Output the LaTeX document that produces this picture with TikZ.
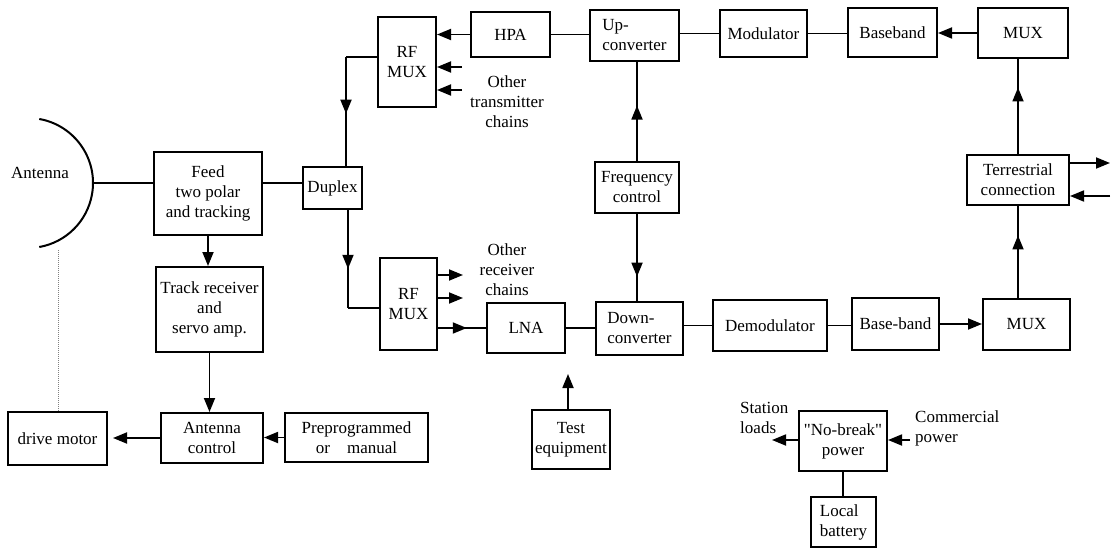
\documentclass[tikz,border=0pt]{standalone}
\usepackage{fontspec}
\setmainfont{Liberation Serif}
\usetikzlibrary{arrows.meta, decorations.markings}

\begin{document}
\begin{tikzpicture}[x=1pt, y=-1pt, >={Triangle[length=14pt,width=11pt]},
    font=\fontsize{17}{20}\selectfont, line width=1.8pt,
    blk/.style={draw, line width=2pt, inner sep=2pt, align=center},
    arr/.style={->},
    midarr/.style={postaction={decorate},
      decoration={markings, mark=at position #1 with {\arrow{>}}}},
    midarr/.default=0.55]
  \useasboundingbox (0,0) rectangle (1115,548);
  % Antenna and tracking
  \coordinate (dishc) at (28,183);
  \coordinate (dish) at (93,183);
  \coordinate (dishfoot) at (58,250);
  \draw[line width=2pt] (dishc) ++(-80:65) arc[start angle=-80, end angle=80, radius=65];
  \node (antlabel) at (40,173) {Antenna};
  \node[blk, minimum width=108pt, minimum height=83pt] (feed) at (208,193.5) {Feed\\two polar\\and tracking};
  \node[blk, minimum width=107pt, minimum height=85pt] (track) at (209.5,309.5) {Track receiver\\and\\servo amp.};
  \node[blk, minimum width=102pt, minimum height=50pt] (antctl) at (212,438) {Antenna\\control};
  \node[blk, minimum width=99pt, minimum height=53pt] (drive) at (57.5,438.5) {drive motor};
  \node[blk, minimum width=143pt, minimum height=49pt] (preprog) at (356.5,437.5) {Preprogrammed\\or\quad manual};
  \draw (dish) -- (dish -| feed.west);
  \draw[densely dotted, gray, line width=1pt] (dishfoot) -- (dishfoot |- drive.north);
  \draw[arr] (feed.south) -- (feed.south |- track.north);
  \draw[arr] (track.south) -- (track.south |- antctl.north);
  \draw[arr, shorten >=5pt] (antctl.west) -- (antctl.west -| drive.east);
  \draw[arr] (preprog.west) -- (preprog.west -| antctl.east);
  % Duplex and RF multiplexers
  \node[blk, minimum width=59pt, minimum height=42pt] (duplex) at (332.5,188) {Duplex};
  \node[blk, minimum width=58pt, minimum height=90pt] (rfmuxT) at (407,62) {RF\\MUX};
  \node[blk, minimum width=57pt, minimum height=92pt] (rfmuxR) at (408.5,304) {RF\\MUX};
  \coordinate (txbend) at (346,57);
  \coordinate (rxbend) at (348,308);
  \draw (dish -| feed.east) -- (dish -| duplex.west);
  \draw (rfmuxT.west |- txbend) -- (txbend);
  \draw[midarr=0.52] (txbend) -- (txbend |- duplex.north);
  \draw[midarr=0.6] (rxbend |- duplex.south) -- (rxbend);
  \draw (rxbend) -- (rxbend -| rfmuxR.west);
  % Transmit chain
  \node[blk, minimum width=79pt, minimum height=45pt] (hpa) at (510.5,34.5) {HPA};
  \node[blk, minimum width=89pt, minimum height=51pt, align=left] (upconv) at (634.5,35.5) {Up-\\converter};
  \node[blk, minimum width=87pt, minimum height=47pt] (mod) at (763.5,33.5) {Modulator};
  \node[blk, minimum width=89pt, minimum height=49pt] (bbT) at (892.5,32.5) {Baseband};
  \node[blk, minimum width=90pt, minimum height=50pt] (muxT) at (1023,33) {MUX};
  \draw[arr] (hpa.west) -- (hpa.west -| rfmuxT.east);
  \foreach \yy/\n in {67/a, 90/b}{
    \coordinate (tx\n) at (462,\yy);
    \draw[arr] (tx\n) -- (tx\n -| rfmuxT.east);
  }
  \node[align=center] (othertx) at (507,102) {Other\\transmitter\\chains};
  \draw (hpa.east) -- (hpa.east -| upconv.west);
  \draw (mod.west -| upconv.east) -- (mod.west);
  \draw (mod.east) -- (mod.east -| bbT.west);
  \draw[arr] (muxT.west) -- (muxT.west -| bbT.east);
  % Frequency control
  \node[blk, minimum width=84pt, minimum height=51pt] (freq) at (637,187.5) {Frequency\\control};
  % Receive chain
  \node[blk, minimum width=78pt, minimum height=50pt] (lna) at (526,328) {LNA};
  \node[blk, minimum width=87pt, minimum height=53pt, align=left] (downconv) at (639.5,328.5) {Down-\\converter};
  \node[blk, minimum width=114pt, minimum height=51pt] (demod) at (770,325.5) {Demodulator};
  \node[blk, minimum width=87pt, minimum height=52pt] (bbR) at (895.5,324) {Base-band};
  \node[blk, minimum width=87pt, minimum height=51pt] (muxR) at (1026.5,324.5) {MUX};
  \draw[midarr=0.56] (freq.north) -- (freq.north |- upconv.south);
  \draw[midarr=0.72] (freq.south) -- (freq.south |- downconv.north);
  \foreach \yy/\n in {275/a, 298/b}{
    \coordinate (rx\n) at (463,\yy);
    \draw[arr] (rx\n -| rfmuxR.east) -- (rx\n);
  }
  \node[align=center] (otherrx) at (507,270) {Other\\receiver\\chains};
  \draw[midarr=0.6] (lna.west -| rfmuxR.east) -- (lna.west);
  \draw (lna.east) -- (lna.east -| downconv.west);
  \draw (demod.west -| downconv.east) -- (demod.west);
  \draw (demod.east) -- (demod.east -| bbR.west);
  \draw[arr] (bbR.east) -- (bbR.east -| muxR.west);
  % Terrestrial side
  \node[blk, minimum width=102pt, minimum height=50pt] (terr) at (1018,180) {Terrestrial\\connection};
  \coordinate (terrout) at (1110,163);
  \coordinate (terrin) at (1110,196);
  \draw[midarr=0.68] (terr.south |- muxR.north) -- (terr.south);
  \draw[midarr=0.7] (terr.north) -- (terr.north |- muxT.south);
  \draw[arr] (terrout -| terr.east) -- (terrout);
  \draw[arr] (terrin) -- (terrin -| terr.east);
  % Test equipment and power
  \node[blk, minimum width=78pt, minimum height=59pt] (test) at (571,439.5) {Test\\equipment};
  \coordinate (testtip) at (568,374);
  \draw[arr] (testtip |- test.north) -- (testtip);
  \node[blk, minimum width=88pt, minimum height=60pt] (nobreak) at (843,441) {\textquotedbl No-break\textquotedbl\\power};
  \node[blk, minimum width=65pt, minimum height=50pt, align=left] (battery) at (843.5,522) {Local\\battery};
  \coordinate (loads) at (772,440);
  \coordinate (mains) at (910,440);
  \node[anchor=west, align=left] (station) at (736,418) {Station\\loads};
  \node[anchor=west, align=left] (commercial) at (911,428) {Commercial\\power};
  \draw[arr] (loads -| nobreak.west) -- (loads);
  \draw[arr] (mains) -- (mains -| nobreak.east);
  \draw (nobreak.south) -- (nobreak.south |- battery.north);
\end{tikzpicture}
\end{document}
